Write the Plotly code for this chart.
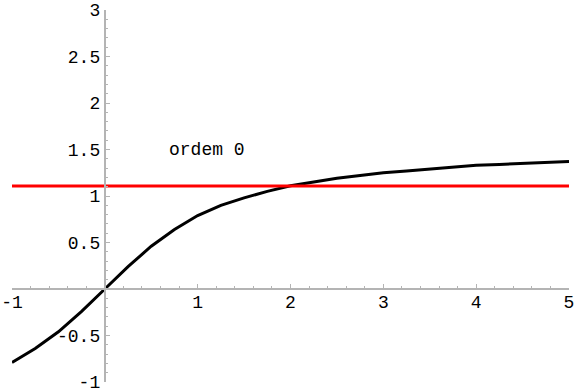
import plotly.graph_objects as go

# Data
x_curve = [-1, -0.75, -0.5, -0.25, 0, 0.25, 0.5, 0.75, 1, 1.25, 1.5, 1.75, 2,
           2.25, 2.5, 2.75, 3, 3.25, 3.5, 3.75, 4, 4.25, 4.5, 4.75, 5]
y_curve = [-0.79, -0.64, -0.46, -0.24, 0, 0.24, 0.46, 0.64, 0.79, 0.90, 0.98,
           1.05, 1.11, 1.15, 1.19, 1.22, 1.25, 1.27, 1.29, 1.31, 1.33, 1.34,
           1.35, 1.36, 1.37]
x_line = [-1, 5]
y_line = [1.107, 1.107]
label_text = "ordem 0"
label_pos = (1.1, 1.5)

x_tickvals = [-1, 1, 2, 3, 4, 5]
x_ticktext = ["-1", "1", "2", "3", "4", "5"]
y_tickvals = [-1, -0.5, 0.5, 1, 1.5, 2, 2.5, 3]
y_ticktext = ["-1", "-0.5", "0.5", "1", "1.5", "2", "2.5", "3"]

font = dict(family="Liberation Mono, Courier New, monospace", size=18, color="black")
axis_color = "#b4b4b4"

fig = go.Figure()
fig.add_trace(go.Scatter(x=x_curve, y=y_curve, mode="lines",
                         line=dict(color="black", width=3), hoverinfo="skip",
                         cliponaxis=False))
fig.add_trace(go.Scatter(x=x_line, y=y_line, mode="lines",
                         line=dict(color="#ff0000", width=3), hoverinfo="skip",
                         cliponaxis=False))
fig.add_annotation(x=label_pos[0], y=label_pos[1], text=label_text,
                   showarrow=False, font=font)

fig.update_layout(
    width=576, height=392,
    margin=dict(l=12, r=7, t=10, b=10, autoexpand=False),
    paper_bgcolor="white", plot_bgcolor="white",
    showlegend=False,
    hovermode=False,
    font=font,
    xaxis=dict(range=[-1, 5], anchor="free", position=0.25, automargin=False,
               showgrid=False, zeroline=False,
               showline=True, linecolor=axis_color, linewidth=2,
               tickvals=x_tickvals, ticktext=x_ticktext,
               ticklabeloverflow="allow", ticklabelstandoff=-4,
               ticks="inside", ticklen=4, tickcolor=axis_color, tickwidth=1,
               minor=dict(dtick=0.2, tick0=0, ticks="inside", ticklen=2,
                          tickcolor=axis_color, showgrid=False),
               tickfont=font),
    yaxis=dict(range=[-1, 3], anchor="free", position=1/6, automargin=False,
               showgrid=False, zeroline=False,
               showline=True, linecolor=axis_color, linewidth=2,
               tickvals=y_tickvals, ticktext=y_ticktext,
               ticklabeloverflow="allow",
               ticks="inside", ticklen=4, tickcolor=axis_color, tickwidth=1,
               minor=dict(dtick=0.1, tick0=0, ticks="inside", ticklen=2,
                          tickcolor=axis_color, showgrid=False),
               tickfont=font),
)

fig.write_html("out.html",
               config={"displayModeBar": False, "staticPlot": True},
               post_script="document.body.style.margin='0';document.body.style.overflow='hidden';")
